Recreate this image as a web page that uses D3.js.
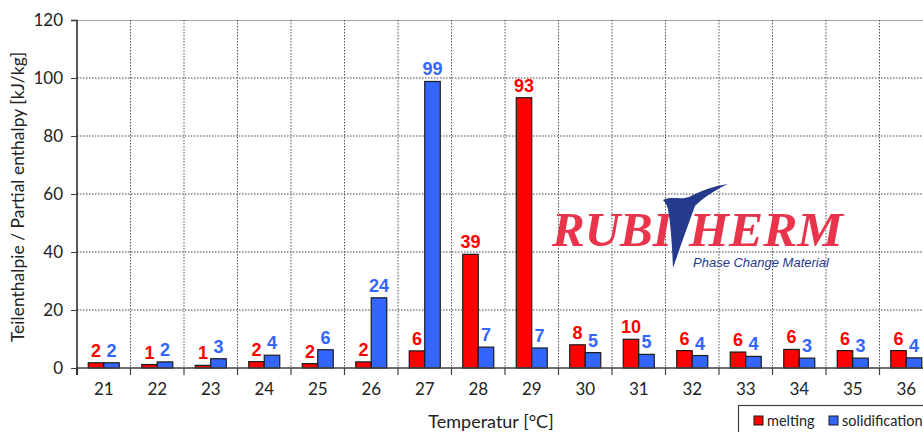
<!DOCTYPE html>
<html>
<head>
<meta charset="utf-8">
<script src="https://cdn.jsdelivr.net/npm/d3@7"></script>
<style>
  body { margin: 0; background: #fff; }
  svg { display: block; }
</style>
</head>
<body>
<script>
// data
var temps = [21, 22, 23, 24, 25, 26, 27, 28, 29, 30, 31, 32, 33, 34, 35, 36];
var melting = [1.8, 1.2, 0.9, 2.2, 1.5, 2.1, 5.9, 39.2, 93.2, 8.0, 9.9, 6.0, 5.5, 6.4, 6.0, 6.0];
var solidification = [1.8, 2.1, 3.2, 4.4, 6.3, 24.2, 98.8, 7.2, 6.9, 5.3, 4.7, 4.3, 4.0, 3.4, 3.4, 3.5];
var seriesNames = ["melting", "solidification"];
var seriesColors = ["#ff0000", "#3366ff"];
var yTicks = [0, 20, 40, 60, 80, 100, 120];

var margin = { top: 20, left: 77 },
  width = 856, height = 348;
var font = "Lato, 'Open Sans', sans-serif";

var svg = d3.select("body").append("svg")
  .attr("width", 923).attr("height", 432);

// title, cut off by the top edge as in the reference
svg.append("text")
  .attr("x", 380).attr("y", -4)
  .attr("text-anchor", "middle")
  .style("font-family", font)
  .style("font-size", "17px").attr("fill", "#555")
  .text("Teilenthalpie-Verteilung / Partial enthalpy distribution (typisch / typical)");

var g = svg.append("g")
  .attr("transform", "translate(" + margin.left + "," + margin.top + ")");

var x0 = d3.scaleBand().domain(temps).range([0, width]).padding(0);
var bw = x0.bandwidth();
var x1 = d3.scaleBand().domain(seriesNames).range([(bw - 31) / 2, (bw + 31) / 2]);
var y = d3.scaleLinear().domain([0, 120]).range([height, 0]);

// horizontal grid
g.selectAll(".hgrid").data(yTicks.filter(function (d) { return d > 0 && d < 120; }))
  .enter().append("line")
  .attr("x1", 0).attr("x2", width)
  .attr("y1", function (d) { return y(d); }).attr("y2", function (d) { return y(d); })
  .attr("stroke", "#444").attr("stroke-width", 1).attr("stroke-dasharray", "1.5,1.5");

// top line
g.append("line").attr("x1", 0).attr("x2", width).attr("y1", 0.5).attr("y2", 0.5)
  .attr("stroke", "#a6a6a6").attr("stroke-width", 1.2);

// vertical grid at band boundaries
var bounds = temps.slice(1).map(function (t) { return x0(t); });
g.selectAll(".vgrid").data(bounds)
  .enter().append("line")
  .attr("x1", function (d) { return d; }).attr("x2", function (d) { return d; })
  .attr("y1", 0).attr("y2", height)
  .attr("stroke", "#555").attr("stroke-width", 1).attr("stroke-dasharray", "1.5,1.5");

// logo
var logo = svg.append("g");
logo.append("text").attr("x", 552).attr("y", 246)
  .style("font-family", "'Liberation Serif', serif").style("font-weight", "bold")
  .style("font-style", "italic").style("font-size", "49px")
  .attr("fill", "#e8354c").text("RUBI");
logo.append("text").attr("x", 689).attr("y", 246)
  .attr("textLength", 154).attr("lengthAdjust", "spacingAndGlyphs")
  .style("font-family", "'Liberation Serif', serif").style("font-weight", "bold")
  .style("font-style", "italic").style("font-size", "49px")
  .attr("fill", "#e8354c").text("HERM");
logo.append("path")
  .attr("d", "M663,200 C672,196 680,200 689,197 C701,191 713,186 728,184 " +
    "C715,190 703,198 695,206 C689,222 681,245 673,268 " +
    "C672,246 671,226 668,209 C667,205 665,202 663,200 Z")
  .attr("fill", "#263a8c");
logo.append("text").attr("x", 693).attr("y", 267)
  .style("font-family", "'Liberation Sans', Arial, sans-serif")
  .style("font-style", "italic").style("font-size", "13px")
  .attr("fill", "#263a8c").text("Phase Change Material");

// bars
var rows = temps.map(function (t, i) {
  return { t: t, vals: [melting[i], solidification[i]] };
});

var groups = g.selectAll(".grp").data(rows).enter().append("g")
  .attr("transform", function (d) { return "translate(" + x0(d.t) + ",0)"; });

function pairs(d) {
  return seriesNames.map(function (k, j) { return { key: k, v: d.vals[j], c: seriesColors[j] }; });
}

groups.selectAll("rect").data(pairs).enter().append("rect")
  .attr("x", function (d) { return x1(d.key); })
  .attr("width", x1.bandwidth())
  .attr("y", function (d) { return y(d.v); })
  .attr("height", function (d) { return height - y(d.v); })
  .attr("fill", function (d) { return d.c; })
  .attr("stroke", "#1a1a1a").attr("stroke-width", 1.2);

groups.selectAll(".lbl").data(pairs).enter().append("text")
  .attr("x", function (d) { return x1(d.key) + x1.bandwidth() / 2; })
  .attr("y", function (d) { return y(d.v) - 6; })
  .attr("text-anchor", "middle")
  .style("font-family", "'Liberation Sans', Arial, sans-serif")
  .style("font-weight", "bold").style("font-size", "18px")
  .attr("fill", function (d) { return d.c; })
  .text(function (d) { return Math.round(d.v); });

// x axis
g.append("line").attr("x1", 0).attr("x2", width).attr("y1", height).attr("y2", height)
  .attr("stroke", "#404040").attr("stroke-width", 1.3);
g.selectAll(".xt").data([0].concat(bounds)).enter().append("line")
  .attr("x1", function (d) { return d; }).attr("x2", function (d) { return d; })
  .attr("y1", height).attr("y2", height + 7)
  .attr("stroke", "#404040").attr("stroke-width", 1.2);
g.selectAll(".xl").data(temps).enter().append("text")
  .attr("x", function (d) { return x0(d) + bw / 2; })
  .attr("y", height + 27)
  .attr("text-anchor", "middle")
  .style("font-family", font).style("font-size", "17px")
  .attr("fill", "#222")
  .text(function (d) { return d; });

// y axis
var yAxis = g.append("g")
  .call(d3.axisLeft(y).tickValues(yTicks).tickSize(6).tickPadding(8));
yAxis.select(".domain").attr("stroke", "#000").attr("stroke-width", 1.3)
  .attr("d", "M-6,0.5H0V" + (height + 7));
yAxis.selectAll(".tick line").attr("stroke", "#404040");
yAxis.selectAll(".tick text")
  .style("font-family", font).style("font-size", "17px")
  .attr("fill", "#222");

// axis titles
svg.append("text")
  .attr("transform", "translate(24,197) rotate(-90)")
  .attr("text-anchor", "middle")
  .style("font-family", font).style("font-size", "17.5px")
  .attr("fill", "#222")
  .text("Teilenthalpie / Partial enthalpy [kJ/kg]");

svg.append("text")
  .attr("x", 491).attr("y", 428)
  .attr("text-anchor", "middle")
  .style("font-family", font).style("font-size", "18px")
  .attr("fill", "#222")
  .text("Temperatur [°C]");

// legend
var lg = svg.append("g").attr("transform", "translate(738,405)");
lg.append("rect").attr("x", 0.5).attr("y", 0.5).attr("width", 200).attr("height", 40)
  .attr("fill", "#fff").attr("stroke", "#404040").attr("stroke-width", 1.2);
var lx = [16, 91];
seriesNames.forEach(function (k, j) {
  lg.append("rect").attr("x", lx[j]).attr("y", 11).attr("width", 9).attr("height", 9)
    .attr("fill", seriesColors[j]).attr("stroke", "#1a1a1a").attr("stroke-width", 1);
  lg.append("text").attr("x", lx[j] + 13).attr("y", 21)
    .style("font-family", font).style("font-size", "14.5px")
    .attr("fill", "#222").text(k);
});
</script>
</body>
</html>
